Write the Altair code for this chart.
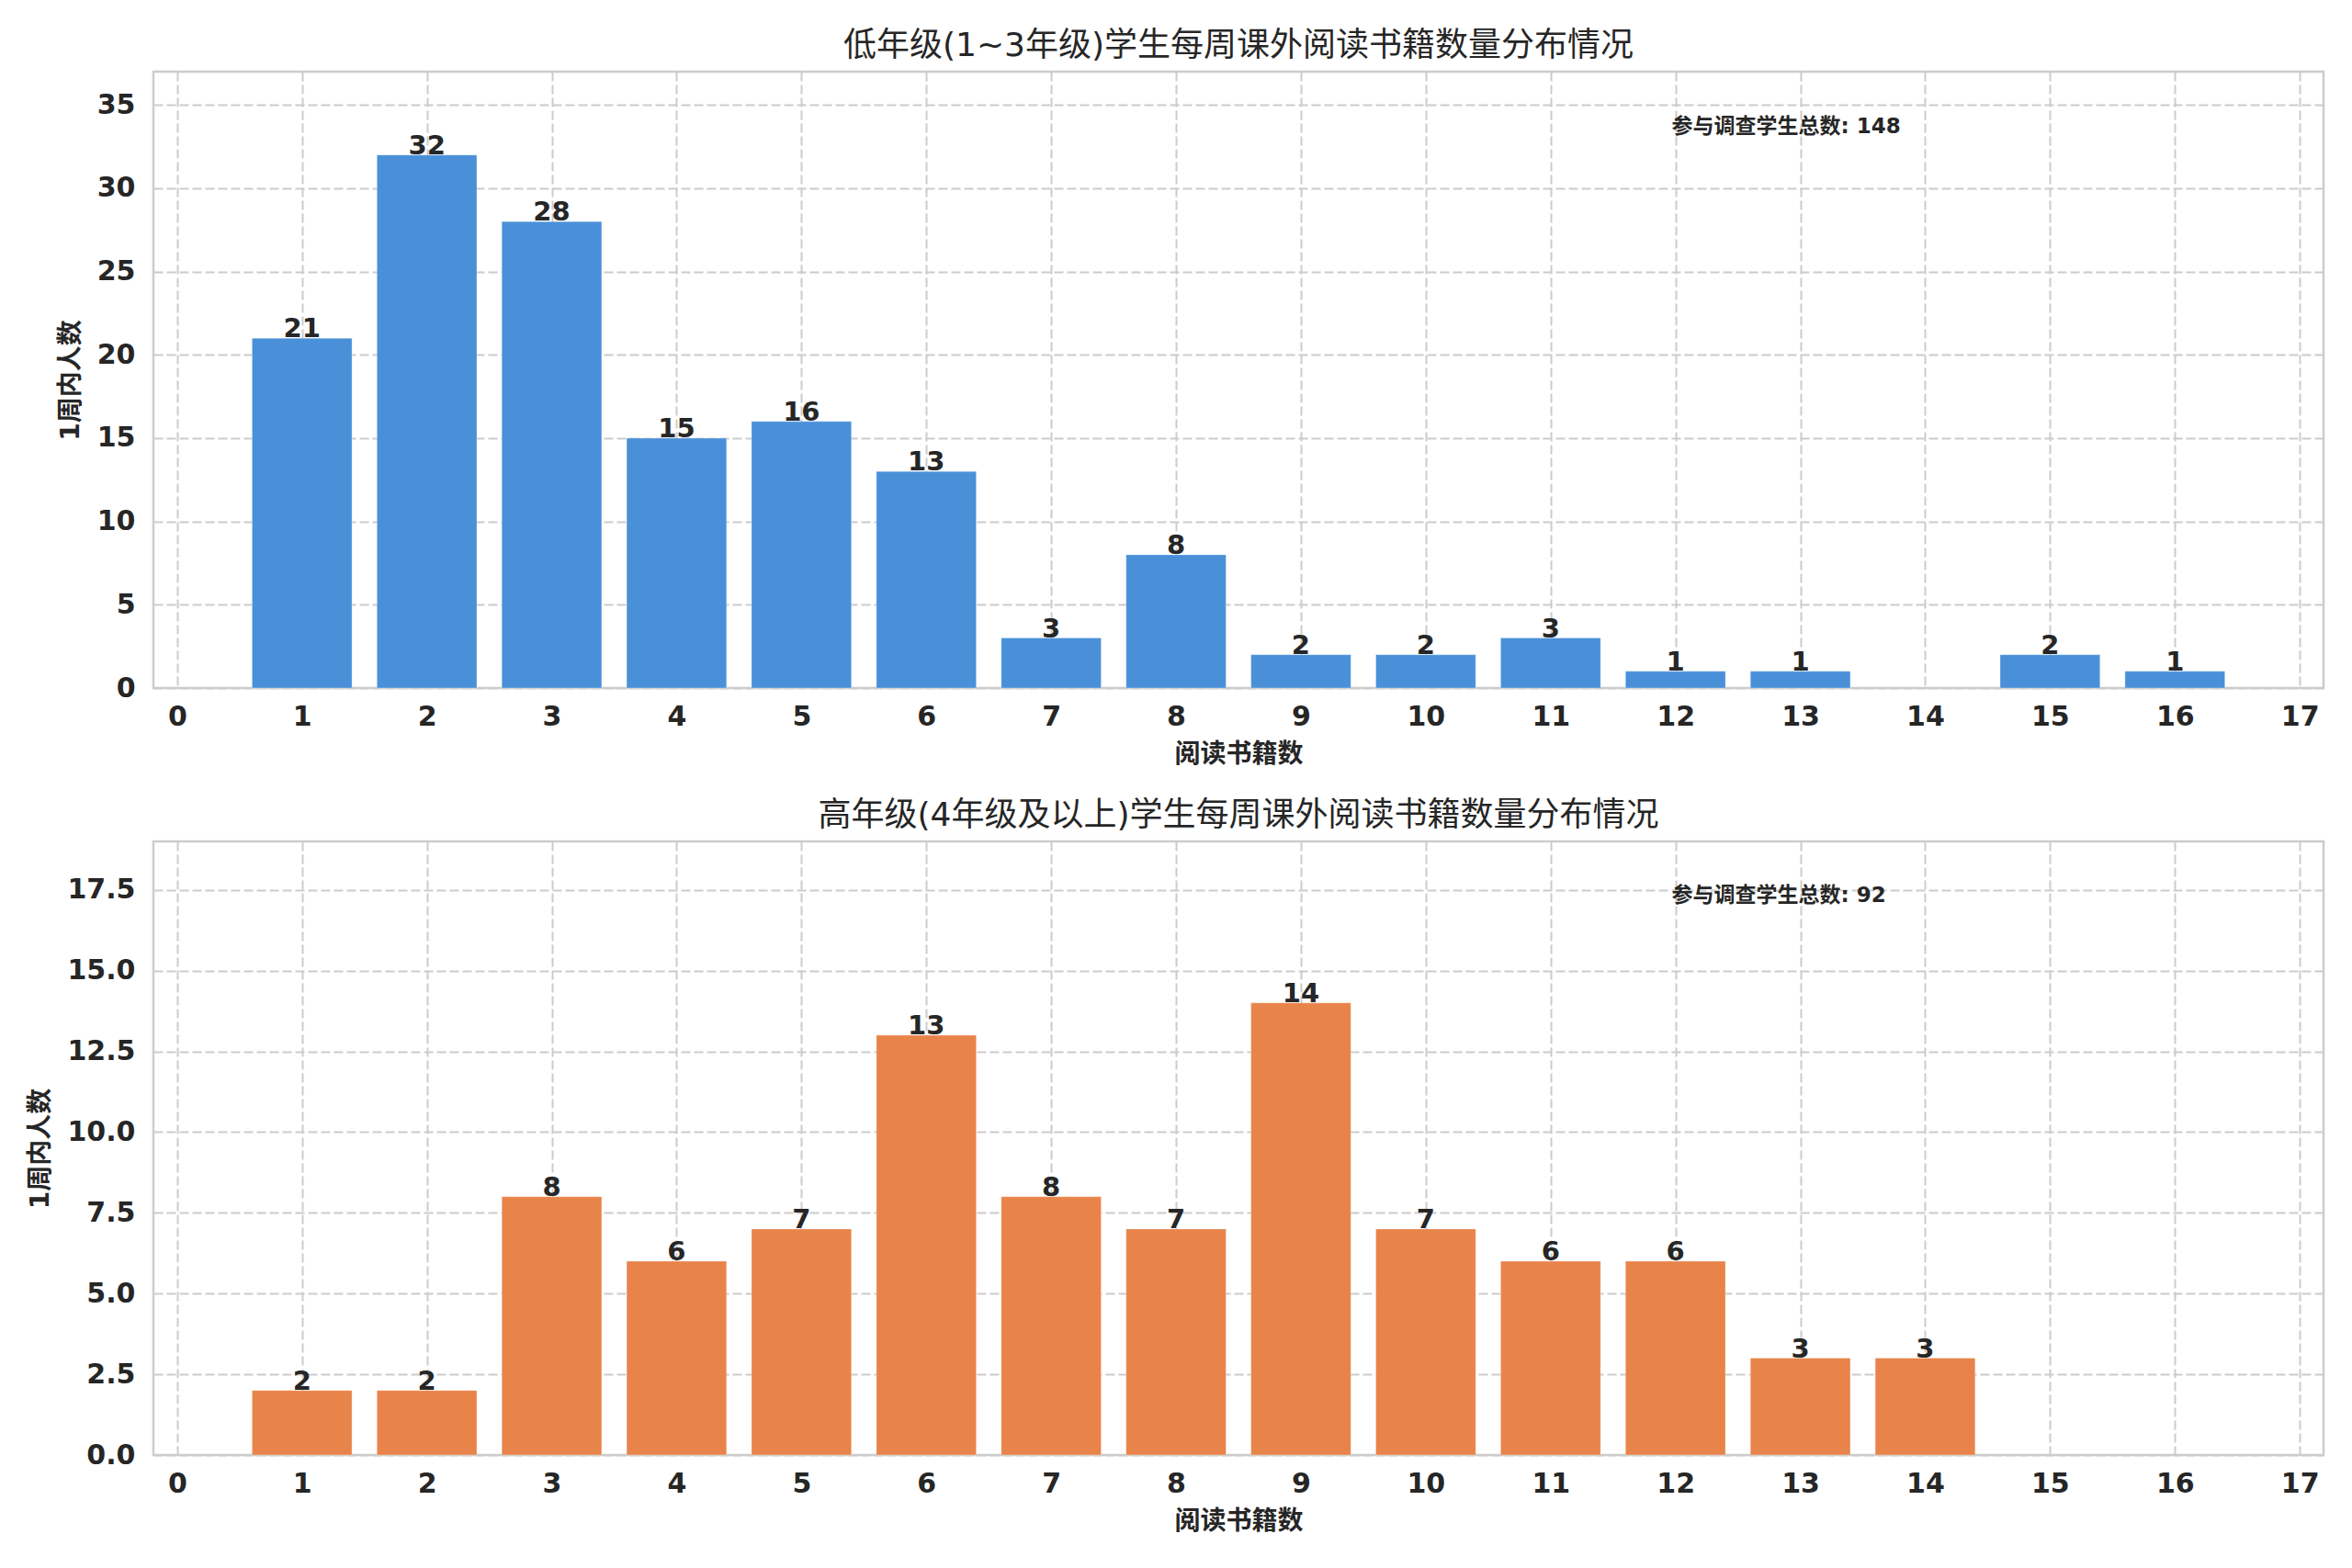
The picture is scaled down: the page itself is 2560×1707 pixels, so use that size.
import altair as alt
import pandas as pd

# ---- data ----
low_x = [1, 2, 3, 4, 5, 6, 7, 8, 9, 10, 11, 12, 13, 15, 16]
low_n = [21, 32, 28, 15, 16, 13, 3, 8, 2, 2, 3, 1, 1, 2, 1]
high_x = [1, 2, 3, 4, 5, 6, 7, 8, 9, 10, 11, 12, 13, 14]
high_n = [2, 2, 8, 6, 7, 13, 8, 7, 14, 7, 6, 6, 3, 3]

title_low = "低年级(1~3年级)学生每周课外阅读书籍数量分布情况"
title_high = "高年级(4年级及以上)学生每周课外阅读书籍数量分布情况"
x_title = "阅读书籍数"
y_title = "1周内人数"
total_label = "参与调查学生总数"

x_ticks = list(range(0, 18))
y_ticks_low = [0, 5, 10, 15, 20, 25, 30, 35]
y_ticks_high = [0, 2.5, 5, 7.5, 10, 12.5, 15, 17.5]

X_DOMAIN = [-0.19, 17.19]
FONT = "DejaVu Sans, Noto Sans CJK SC, sans-serif"
TXT = "#262626"
W = 2362


def panel(xs, ns, color, ymax, yticks, yfmt, title, h):
    df = pd.DataFrame({"x": xs, "n": ns})
    total = sum(ns)
    base = alt.Chart(df).transform_calculate(
        x0="datum.x - 0.4", x1="datum.x + 0.4", base0="0"
    )
    xscale = alt.Scale(domain=X_DOMAIN, nice=False, zero=False)
    yscale = alt.Scale(domain=[0, ymax], nice=False)
    bars = base.mark_bar(color=color, stroke="#ffffff", strokeWidth=0.6, strokeOpacity=0.5).encode(
        x=alt.X("x0:Q", scale=xscale,
                axis=alt.Axis(values=x_ticks, title=x_title, format="d")),
        x2="x1:Q",
        y=alt.Y("n:Q", scale=yscale,
                axis=alt.Axis(values=yticks, title=y_title, format=yfmt)),
        y2="base0:Q",
    )
    labels = base.mark_text(
        baseline="alphabetic", dy=-1, fontSize=29, fontWeight="bold",
        color=TXT, font=FONT,
    ).encode(x="x:Q", y="n:Q", text="n:Q")
    note_df = pd.DataFrame({"t": [f"{total_label}: {total}"],
                            "nx": [11.97], "ny": [ymax * 0.911]})
    note = alt.Chart(note_df).mark_text(
        align="left", baseline="middle", fontSize=23, fontWeight="bold",
        color=TXT, font=FONT,
    ).encode(x="nx:Q", y="ny:Q", text="t:N")
    return alt.layer(bars, labels, note).properties(
        width=W, height=h,
        title=alt.TitleParams(title, fontSize=36, fontWeight="normal",
                              color=TXT, font=FONT, offset=9),
    )


top = panel(low_x, low_n, "#4A90D9", 37, y_ticks_low, "d", title_low, 671)
bottom = panel(high_x, high_n, "#E8844A", 19, y_ticks_high, ".1f", title_high, 668)

chart = alt.vconcat(top, bottom, spacing=31).properties(
    padding={"left": 21, "top": 22, "right": 10, "bottom": 10}
).configure(
    font=FONT,
    background="white",
).configure_view(
    stroke="#cccccc", strokeWidth=2.5,
).configure_axis(
    grid=True, gridColor="#cccccc", gridDash=[10, 4], gridWidth=2,
    domain=False, ticks=False,
    labelFont=FONT, labelFontSize=30, labelFontWeight="bold", labelColor=TXT,
    titleFont=FONT, titleFontSize=28, titleFontWeight="bold", titleColor=TXT,
).configure_axisX(
    labelPadding=16, titlePadding=12,
).configure_axisY(
    labelPadding=20, titlePadding=14,
)

chart.save("out.html", embed_options={"renderer": "svg", "actions": False})
